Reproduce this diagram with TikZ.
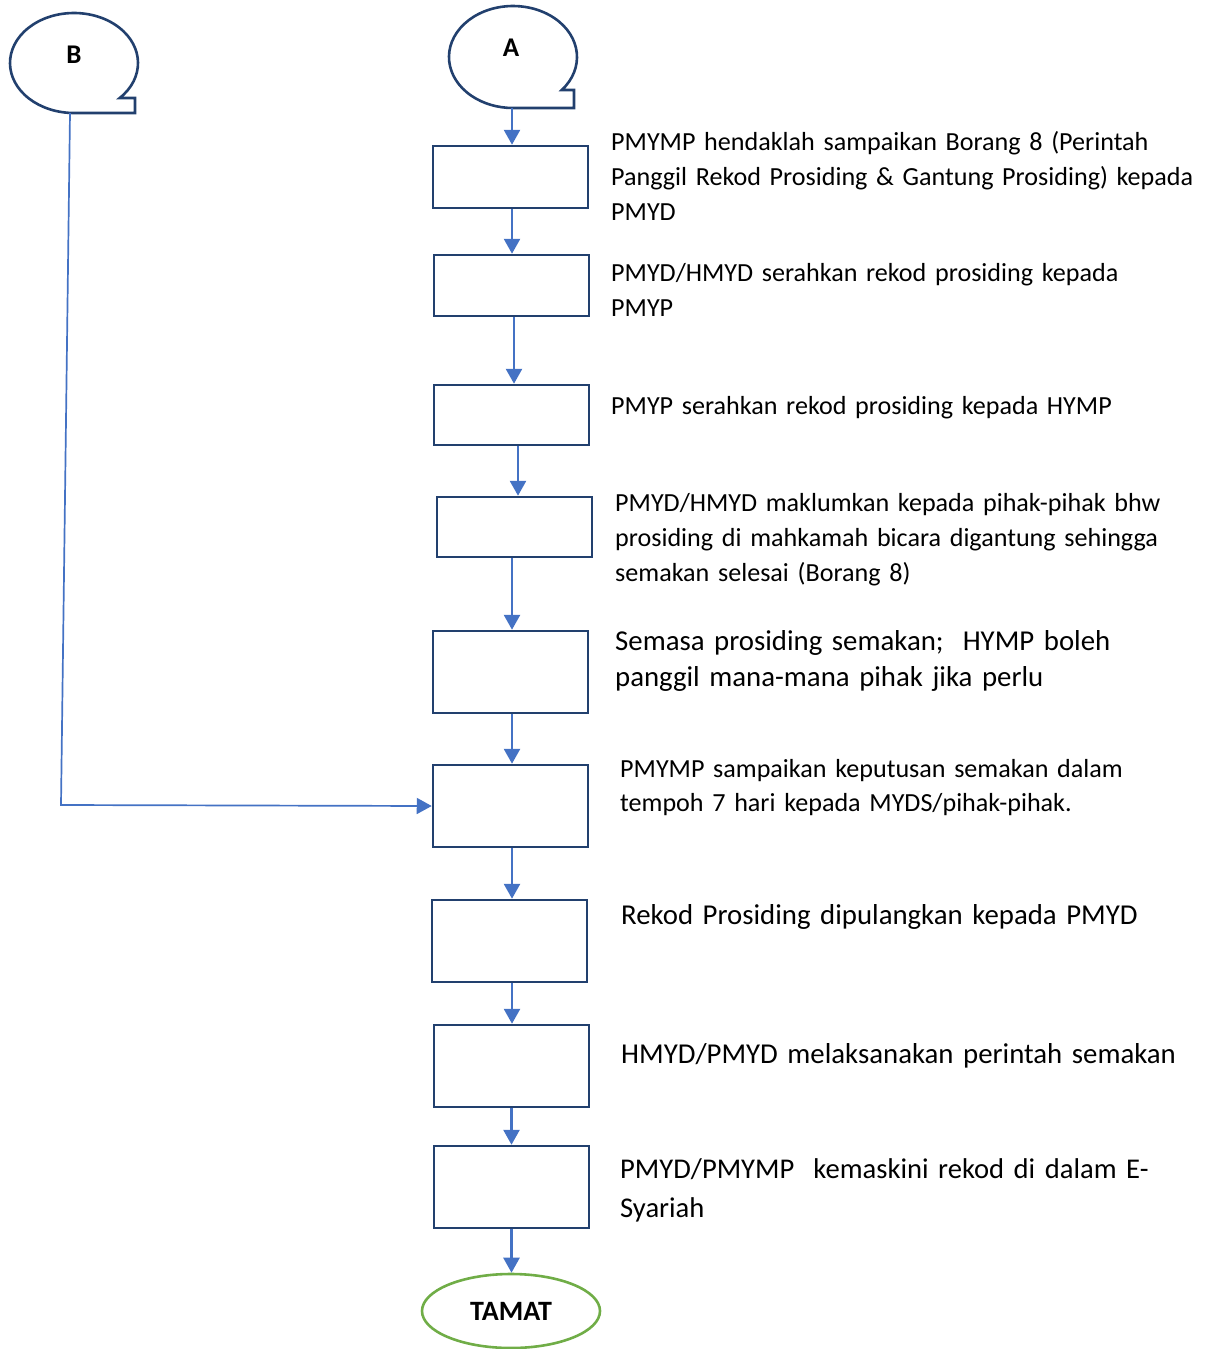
\documentclass[tikz,border=0pt]{standalone}
\usepackage{fontspec}
\setmainfont{Carlito}
\usetikzlibrary{arrows.meta,shapes.geometric}
\definecolor{boxc}{HTML}{22406E}
\definecolor{arrc}{HTML}{4472C4}
\definecolor{greenc}{HTML}{70AD47}
\begin{document}
\begin{tikzpicture}[x=1pt,y=1pt,
  stepbox/.style={draw=boxc, line width=2.5pt, minimum width=155pt, minimum height=#1, inner sep=0pt},
  stepbox/.default=82pt,
  bub/.style={draw=boxc, line width=2.6pt},
  lbl/.style={inner sep=0pt, font=\bfseries\fontsize{27}{27}\selectfont},
  arr/.style={draw=arrc, line width=2.7pt, -{Triangle[width=16pt,length=15pt]}},
  bline/.style={draw=arrc, line width=1.7pt, -{Triangle[width=16pt,length=15pt]}},
  txts/.style={anchor=base west, inner sep=0pt, text width=595pt, align=left, font=\fontsize{26.1}{35}\selectfont},
  txtl/.style={anchor=base west, inner sep=0pt, text width=595pt, align=left, font=\fontsize{28.8}{36}\selectfont}]
\useasboundingbox (0,0) rectangle (1208,-1349);
% bubbles
\draw[bub] (561.8,-90) arc[start angle=-40.3,end angle=270,x radius=64,y radius=51] -- (574,-108) -- (574,-90) -- cycle;
\node[lbl] (A) at (511,-48) {A};
\coordinate (Abot) at (512,-108);
\draw[bub] (119.7,-98) arc[start angle=-44.43,end angle=270,x radius=64,y radius=50] -- (135,-113) -- (135,-98) -- cycle;
\node[lbl] (B) at (74,-55) {B};
\coordinate (Bbot) at (70,-113);
\coordinate (Bturn) at (61,-805);
% boxes
\node[stepbox=62pt] (b1) at (510.5,-177) {};
\node[stepbox=61pt] (b2) at (511.5,-285.5) {};
\node[stepbox=60pt] (b3) at (511.5,-415) {};
\node[stepbox=60pt] (b4) at (514.5,-527) {};
\node[stepbox] (b5) at (510.5,-672) {};
\node[stepbox] (b6) at (510.5,-806) {};
\node[stepbox] (b7) at (509.5,-941) {};
\node[stepbox] (b8) at (511.5,-1066) {};
\node[stepbox] (b9) at (511.5,-1187) {};
\node[ellipse, draw=greenc, line width=2.6pt, minimum width=178pt, minimum height=74pt, inner sep=0pt, font=\bfseries\fontsize{28}{28}\selectfont] (end) at (511,-1311) {TAMAT};
% arrows
\draw[arr] (Abot) -- (Abot |- b1.north);
\draw[arr] ([xshift=1.5pt]b1.south) -- ([xshift=1.5pt]b1.south |- b2.north);
\draw[arr] ([xshift=2.5pt]b2.south) -- ([xshift=2.5pt]b2.south |- b3.north);
\draw[arr] ([xshift=6.5pt]b3.south) -- ([xshift=6.5pt]b3.south |- b4.north);
\draw[arr] ([xshift=-2.5pt]b4.south) -- ([xshift=-2.5pt]b4.south |- b5.north);
\draw[arr] ([xshift=1.5pt]b5.south) -- ([xshift=1.5pt]b5.south |- b6.north);
\draw[arr] ([xshift=1.5pt]b6.south) -- ([xshift=1.5pt]b6.south |- b7.north);
\draw[arr] ([xshift=2.5pt]b7.south) -- ([xshift=2.5pt]b7.south |- b8.north);
\draw[arr] (b8.south) -- (b8.south |- b9.north);
\draw[arr] (b9.south) -- (b9.south |- end.north);
\draw[bline] (Bbot) -- (Bturn) -- (b6.west);
% texts
\node[txts] (t1) at (611,-150) {PMYMP hendaklah sampaikan Borang 8 (Perintah\\Panggil Rekod Prosiding \& Gantung Prosiding) kepada\\PMYD};
\node[txts] (t2) at (611,-281) {PMYD/HMYD serahkan rekod prosiding kepada\\PMYP};
\node[txts] (t3) at (611,-414) {PMYP serahkan rekod prosiding kepada HYMP};
\node[txts] (t4) at (615,-511) {PMYD/HMYD maklumkan kepada pihak-pihak bhw\\prosiding di mahkamah bicara digantung sehingga\\semakan selesai (Borang 8)};
\node[txtl] (t5) at (615,-650) {Semasa prosiding semakan;\ \ HYMP boleh\\panggil mana-mana pihak jika perlu};
\node[txts, font=\fontsize{26.1}{34}\selectfont] (t6) at (620,-777) {PMYMP sampaikan keputusan semakan dalam\\tempoh 7 hari kepada MYDS/pihak-pihak.};
\node[txtl] (t7) at (621,-924) {Rekod Prosiding dipulangkan kepada PMYD};
\node[txtl] (t8) at (621,-1063) {HMYD/PMYD melaksanakan perintah semakan};
\node[txtl, font=\fontsize{28.6}{39}\selectfont] (t9) at (620,-1178) {PMYD/PMYMP\ \ kemaskini rekod di dalam E-\\Syariah};
\end{tikzpicture}
\end{document}
